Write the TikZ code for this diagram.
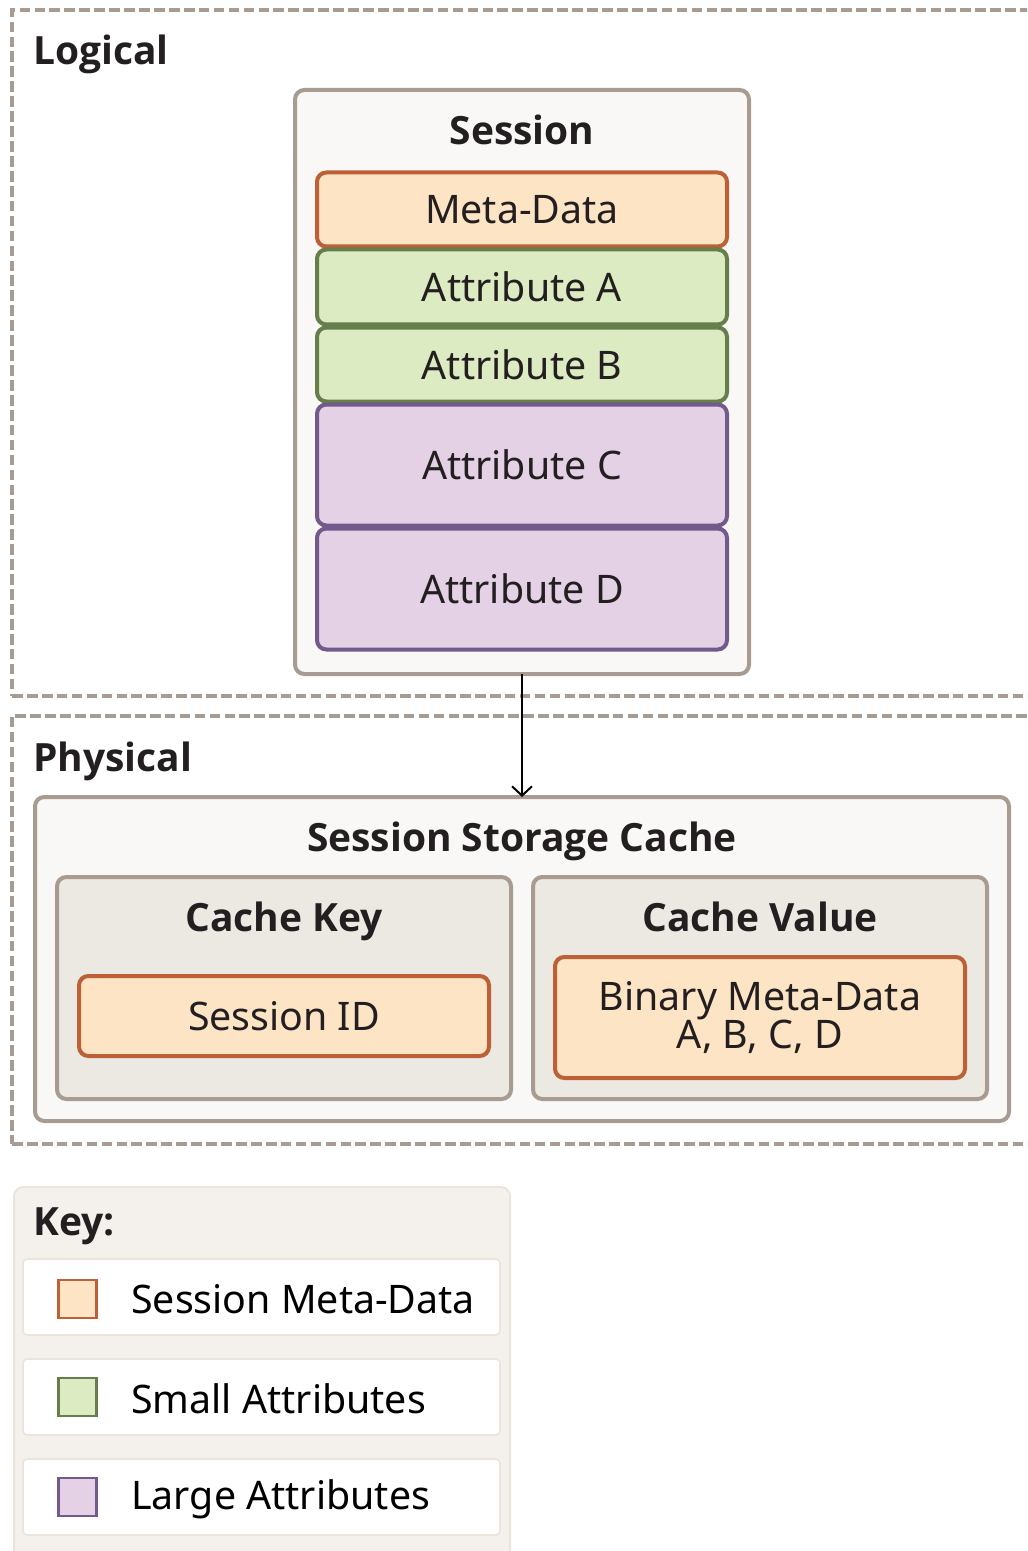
\documentclass[tikz,border=0pt]{standalone}
\usepackage{fontspec}
\setmainfont{Noto Sans}
\newfontfamily\titlefont{Open Sans}
\usetikzlibrary{arrows.meta}
\definecolor{frame}{HTML}{A89C92}
\definecolor{txt}{HTML}{231F20}
\definecolor{paper}{HTML}{F9F8F6}
\definecolor{inner}{HTML}{ECE8E2}
\definecolor{peachF}{HTML}{FCE4C4}
\definecolor{peachD}{HTML}{BD6035}
\definecolor{greenF}{HTML}{DCEBC1}
\definecolor{greenD}{HTML}{667E4B}
\definecolor{purpF}{HTML}{E4D1E5}
\definecolor{purpD}{HTML}{735A8C}
\definecolor{keyF}{HTML}{F4F1ED}
\definecolor{keyD}{HTML}{EAE4DC}
\begin{document}
\begin{tikzpicture}[x=0.75pt,y=-0.75pt,
  sz/.style 2 args={minimum width=#1*0.75pt, minimum height=#2*0.75pt, inner sep=0pt, outer sep=0pt},
  region/.style={draw=frame, line width=3.2pt, dash pattern=on 8pt off 3.2pt},
  panel/.style={draw=frame, fill=paper, line width=3pt, rounded corners=7pt},
  subpanel/.style={draw=frame, fill=inner, line width=3pt, rounded corners=7pt},
  mdbox/.style={draw=peachD, fill=peachF, line width=3pt, rounded corners=7pt, text=txt, font=\fontsize{29.5}{29}\selectfont, align=center},
  smallbox/.style={draw=greenD, fill=greenF, line width=3pt, rounded corners=7pt, text=txt, font=\fontsize{29.5}{29}\selectfont},
  largebox/.style={draw=purpD, fill=purpF, line width=3pt, rounded corners=7pt, text=txt, font=\fontsize{29.5}{29}\selectfont},
  title/.style={text=txt, font=\titlefont\bfseries\fontsize{29.2}{29}\selectfont, inner sep=0pt, anchor=base},
  keyrow/.style={draw=keyD, fill=white, line width=1.2pt, rounded corners=3pt},
  swatch/.style={line width=2pt},
  keytext/.style={text=black, font=\fontsize{29.5}{30}\selectfont, inner sep=0pt, anchor=west},
]
\useasboundingbox (0,0) rectangle (1027,1551);
\begin{scope}
\clip (0,0) rectangle (1027,1551);
% regions
\node[region, sz={1040}{686}, anchor=north west] (logical) at (12,10) {};
\node[region, sz={1040}{428}, anchor=north west] (physical) at (12,716) {};
\node[title, anchor=base west] (logicalT) at (33,65) {Logical};
\node[title, anchor=base west] (physicalT) at (33,771) {Physical};

% session
\node[panel, sz={454}{584}] (session) at (522,382) {};
\node[title] (sessionT) at (522,145) {Session};
\node[mdbox, sz={410}{74}] (meta) at (522,209.5) {Meta-Data};
\node[smallbox, sz={410}{75}] (attA) at (522,287) {Attribute A};
\node[smallbox, sz={410}{74}] (attB) at (522,364.5) {Attribute B};
\node[largebox, sz={410}{121}] (attC) at (522,465) {Attribute C};
\node[largebox, sz={410}{121}] (attD) at (522,589) {Attribute D};

% storage
\node[panel, sz={974}{324}] (ssc) at (522,959) {};
\node[title] (sscT) at (522,851) {Session Storage Cache};
\node[subpanel, sz={454}{222}] (ckey) at (284,988) {};
\node[title] (ckeyT) at (284,931) {Cache Key};
\node[mdbox, sz={410}{80}] (sid) at (284,1016) {Session ID};
\node[subpanel, sz={454}{222}] (cval) at (760,988) {};
\node[title] (cvalT) at (760,931) {Cache Value};
\node[mdbox, sz={410}{121}] (bin) at (760,1017.5) {Binary Meta-Data\\A, B, C, D};

\draw[line width=1.5pt, -{Straight Barb[length=7pt, width=15pt, line width=1.5pt]}] (session.south) -- (ssc.north);

% key
\node[draw=keyD, fill=keyF, line width=1.5pt, rounded corners=7pt, sz={496}{400}, anchor=north west] (keybox) at (14,1187) {};
\node[title, anchor=base west] (keyT) at (33,1235) {Key:};
\node[keyrow, sz={477}{76}] (row1) at (261.5,1297) {};
\node[keyrow, sz={477}{76}] (row2) at (261.5,1397) {};
\node[keyrow, sz={477}{76}] (row3) at (261.5,1497) {};
\node[swatch, draw=peachD, fill=peachF, sz={38}{38}] (sw1) at (77.5,1299) {};
\node[swatch, draw=greenD, fill=greenF, sz={38}{38}] (sw2) at (77.5,1397) {};
\node[swatch, draw=purpD, fill=purpF, sz={38}{38}] (sw3) at (77.5,1497) {};
\node[keytext] (k1) at (131,1299) {Session Meta-Data};
\node[keytext] (k2) at (131,1399) {Small Attributes};
\node[keytext] (k3) at (131,1499) {Large Attributes};
\end{scope}
\end{tikzpicture}
\end{document}
